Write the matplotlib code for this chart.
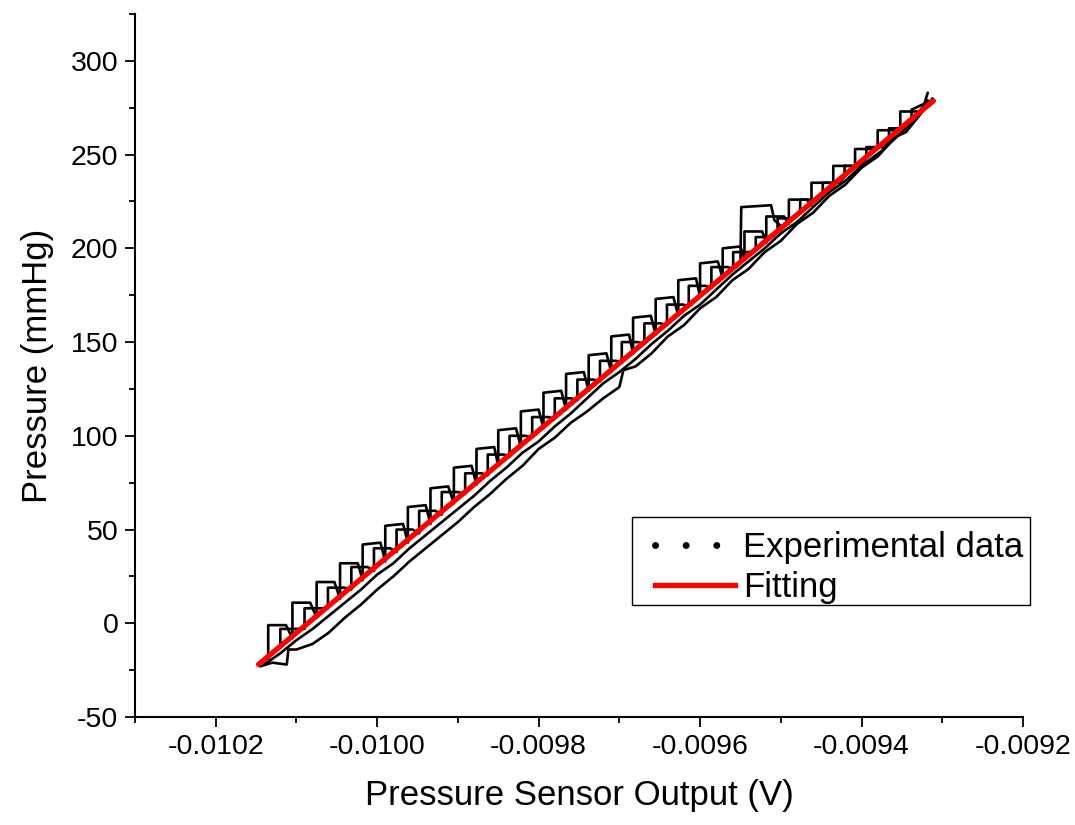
import matplotlib
matplotlib.use("Agg")
import matplotlib.pyplot as plt
from matplotlib.lines import Line2D
from matplotlib.patches import Rectangle
from matplotlib.ticker import MultipleLocator, FuncFormatter
import numpy as np

plt.rcParams["font.family"] = ["Liberation Sans", "DejaVu Sans"]

# --- experimental traces: sensor output (V) vs reference pressure (mmHg) ---
# loading cycle 1 (stepwise pressurisation)
load1_v = [-0.010135, -0.010135, -0.010113, -0.010105, -0.010105, -0.010083,
           -0.010075, -0.010075, -0.010053, -0.010046, -0.010046, -0.010024,
           -0.010018, -0.010018, -0.009996, -0.009990, -0.009990, -0.009968,
           -0.009962, -0.009962, -0.009940, -0.009934, -0.009934, -0.009912,
           -0.009905, -0.009905, -0.009883, -0.009877, -0.009877, -0.009855,
           -0.009850, -0.009850, -0.009828, -0.009822, -0.009822, -0.009800,
           -0.009794, -0.009794, -0.009772, -0.009766, -0.009766, -0.009744,
           -0.009738, -0.009738, -0.009716, -0.009710, -0.009710, -0.009688,
           -0.009683, -0.009683, -0.009661, -0.009655, -0.009655, -0.009633,
           -0.009627, -0.009627, -0.009605, -0.009600, -0.009600, -0.009578,
           -0.009572, -0.009572, -0.009550, -0.009545, -0.009545, -0.009523,
           -0.009518, -0.009518, -0.009496, -0.009490, -0.009490, -0.009468,
           -0.009462, -0.009462, -0.009440, -0.009435, -0.009435, -0.009413,
           -0.009408, -0.009408, -0.009386, -0.009380, -0.009380, -0.009358,
           -0.009352, -0.009352, -0.009330, -0.009325, -0.009318]
load1_p = [-19, -1, -1, -8, 11, 11,
           3, 22, 22, 13, 32, 32,
           23, 42, 43, 33, 52, 53,
           43, 62, 63, 53, 72, 73,
           64, 83, 84, 74, 93, 94,
           84, 103, 104, 94, 113, 114,
           104, 123, 124, 114, 133, 134,
           124, 143, 144, 134, 153, 154,
           144, 163, 164, 154, 173, 174,
           164, 183, 184, 174, 192, 193,
           184, 200, 201, 194, 209, 209,
           203, 217, 217, 213, 226, 226,
           223, 235, 235, 233, 244, 244,
           243, 253, 253, 253, 263, 263,
           263, 273, 273, 273, 283]

# unloading cycle 1
unload1_v = [-0.009318, -0.009330, -0.009345, -0.009365, -0.009380, -0.009400,
             -0.009420, -0.009440, -0.009460, -0.009480, -0.009500, -0.009520,
             -0.009540, -0.009560, -0.009580, -0.009600, -0.009620, -0.009640,
             -0.009660, -0.009680, -0.009695, -0.009700, -0.009720, -0.009740,
             -0.009760, -0.009780, -0.009800, -0.009820, -0.009840, -0.009860,
             -0.009880, -0.009900, -0.009920, -0.009940, -0.009960, -0.009980,
             -0.010000, -0.010020, -0.010040, -0.010060, -0.010080, -0.010100,
             -0.010110, -0.010112, -0.010130, -0.010145]
unload1_p = [279, 272, 264, 256, 249, 243,
             234, 228, 219, 213, 204, 198,
             189, 183, 174, 168, 159, 153,
             144, 137, 135, 126, 120, 113,
             107, 99, 93, 84, 77, 69,
             62, 54, 47, 40, 33, 25,
             18, 10, 3, -5, -11, -14,
             -14, -22, -21, -23]

# loading cycle 2
load2_v = [-0.010120, -0.010120, -0.010100, -0.010090, -0.010090, -0.010070,
           -0.010061, -0.010061, -0.010041, -0.010032, -0.010032, -0.010012,
           -0.010004, -0.010004, -0.009984, -0.009976, -0.009976, -0.009956,
           -0.009948, -0.009948, -0.009928, -0.009920, -0.009920, -0.009900,
           -0.009891, -0.009891, -0.009871, -0.009863, -0.009863, -0.009843,
           -0.009836, -0.009836, -0.009816, -0.009808, -0.009808, -0.009788,
           -0.009780, -0.009780, -0.009760, -0.009752, -0.009752, -0.009732,
           -0.009724, -0.009724, -0.009704, -0.009697, -0.009697, -0.009677,
           -0.009669, -0.009669, -0.009649, -0.009641, -0.009641, -0.009621,
           -0.009614, -0.009614, -0.009594, -0.009586, -0.009586, -0.009566,
           -0.009559, -0.009559, -0.009539, -0.009531, -0.009531, -0.009511,
           -0.009504, -0.009504, -0.009484, -0.009476, -0.009476, -0.009456,
           -0.009448, -0.009448, -0.009428, -0.009421, -0.009421, -0.009401,
           -0.009394, -0.009394, -0.009374, -0.009366, -0.009366, -0.009346,
           -0.009338, -0.009338, -0.009318]
load2_p = [-13, -3, -3, -3, 8, 8,
           8, 19, 19, 18, 30, 30,
           28, 40, 40, 38, 50, 50,
           48, 60, 60, 58, 70, 70,
           69, 80, 80, 79, 90, 90,
           89, 100, 100, 99, 110, 110,
           109, 120, 120, 119, 130, 130,
           129, 140, 140, 139, 150, 150,
           149, 160, 160, 159, 170, 170,
           169, 180, 180, 179, 190, 190,
           189, 198, 198, 199, 206, 206,
           209, 216, 216, 219, 226, 226,
           229, 235, 235, 238, 244, 244,
           248, 254, 254, 258, 264, 264,
           268, 274, 278]

# unloading cycle 2
unload2_v = [-0.009312, -0.009330, -0.009345, -0.009360, -0.009375, -0.009400,
             -0.009420, -0.009440, -0.009460, -0.009480, -0.009500, -0.009520,
             -0.009540, -0.009560, -0.009580, -0.009600, -0.009620, -0.009640,
             -0.009660, -0.009680, -0.009700, -0.009720, -0.009740, -0.009760,
             -0.009780, -0.009800, -0.009820, -0.009840, -0.009860, -0.009880,
             -0.009900, -0.009920, -0.009940, -0.009960, -0.009980, -0.010000,
             -0.010020, -0.010040, -0.010060, -0.010080, -0.010100, -0.010120,
             -0.010140]
unload2_p = [280, 270, 262, 259, 252, 244,
             236, 230, 222, 214, 208, 200,
             193, 186, 178, 170, 164, 156,
             149, 141, 134, 128, 120, 112,
             105, 97, 91, 83, 76, 68,
             61, 54, 47, 40, 32, 26,
             18, 11, 4, -3, -9, -16,
             -22]

# overshoot excursion near 220 mmHg
spike_v = [-0.009560, -0.009550, -0.009549, -0.009512, -0.009508, -0.009500]
spike_p = [190, 192, 222, 223, 215, 212]

# --- linear calibration fit ---
fit_slope = 359600.0        # mmHg / V
fit_intercept = 3626.9      # mmHg
fit_range = [-0.010147, -0.009311]

fig = plt.figure(figsize=(10.75, 8.25), dpi=100)
ax = fig.add_axes([0.1256, 0.1309, 0.8260, 0.8521])

traces = [(load1_v, load1_p), (unload1_v, unload1_p),
          (load2_v, load2_p), (unload2_v, unload2_p),
          (spike_v, spike_p)]
for v, p in traces:
    ax.plot(v, p, color="black", lw=1.9, solid_joinstyle="round",
            solid_capstyle="round", zorder=2)

fx = np.array(fit_range)
ax.plot(fx, fit_slope * fx + fit_intercept, color="#ff0000", lw=3.8,
        solid_capstyle="round", zorder=3)

ax.set_xlim(-0.0103, -0.0092)
ax.set_ylim(-50, 325)

ax.xaxis.set_major_locator(MultipleLocator(0.0002))
ax.xaxis.set_minor_locator(MultipleLocator(0.0001))
ax.yaxis.set_major_locator(MultipleLocator(50))
ax.yaxis.set_minor_locator(MultipleLocator(25))
ax.xaxis.set_major_formatter(FuncFormatter(lambda v, _: f"{v:.4f}"))
ax.yaxis.set_major_formatter(FuncFormatter(lambda v, _: f"{v:.0f}"))

for side in ("top", "right"):
    ax.spines[side].set_visible(False)
for side in ("left", "bottom"):
    ax.spines[side].set_linewidth(1.5)

ax.tick_params(which="major", direction="out", length=7, width=1.3,
               labelsize=20.5, pad=5)
ax.tick_params(which="minor", direction="out", length=4, width=1.3)

ax.set_xlabel("Pressure Sensor Output (V)", fontsize=25, labelpad=14)
ax.set_ylabel("Pressure (mmHg)", fontsize=25, labelpad=12)

# legend entries without their own frame; the box is drawn separately
handles = [
    Line2D([], [], color="black", lw=5, linestyle=(0, (0.01, 4.4)),
           dash_capstyle="round"),
    Line2D([], [], color="#ff0000", lw=3.8),
]
ax.legend(handles, ["Experimental data", "Fitting"],
          loc="upper left", bbox_to_anchor=(0.5856, 0.265),
          fontsize=25, frameon=False, borderaxespad=0, borderpad=0,
          handlelength=2.3, handletextpad=0.23, labelspacing=0.22)
ax.add_patch(Rectangle((0.5597, 0.1593), 0.4482, 0.1252,
                       transform=ax.transAxes, fill=False,
                       edgecolor="black", lw=1.0, clip_on=False, zorder=5))

fig.savefig("out.png", dpi=100, facecolor="white")
